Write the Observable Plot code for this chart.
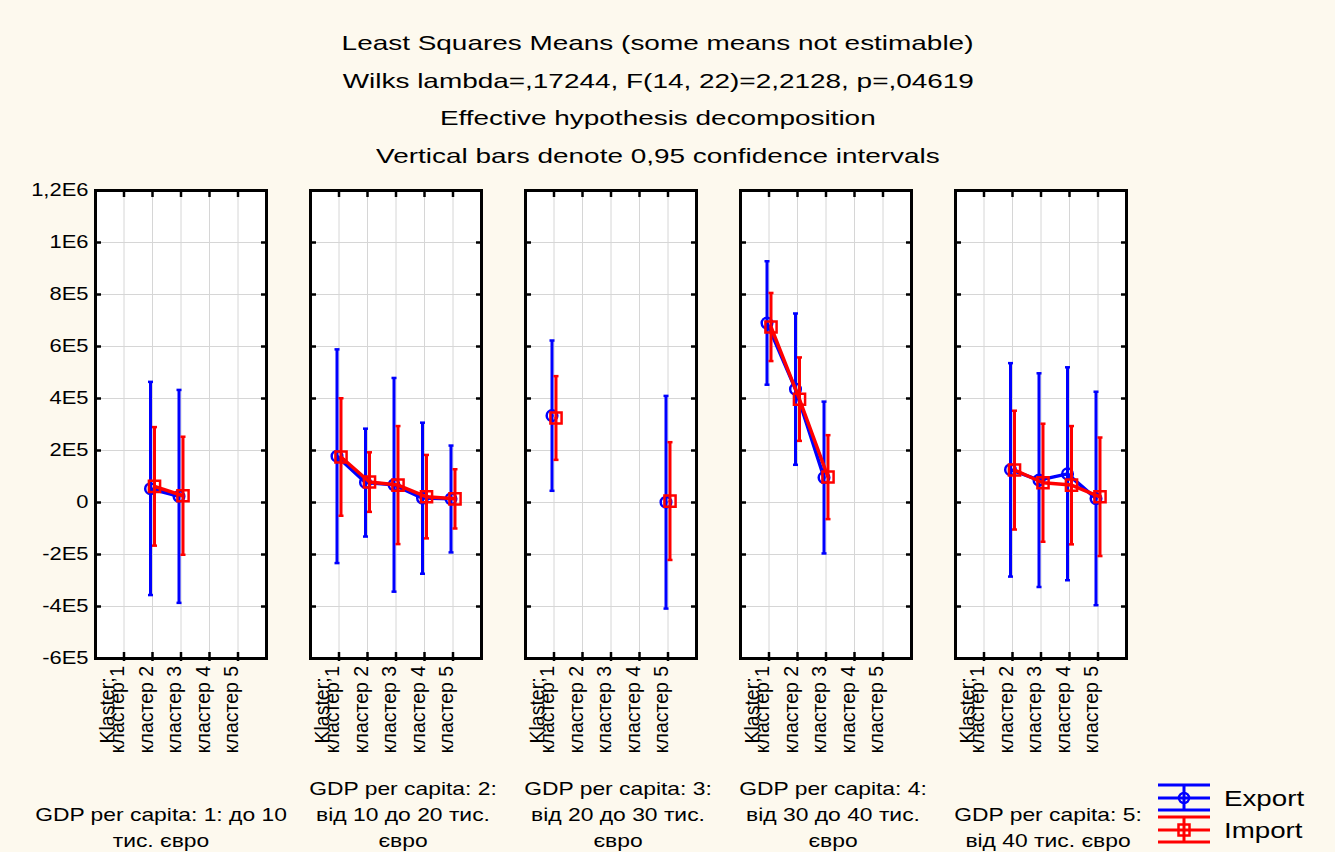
<!DOCTYPE html>
<html><head><meta charset="utf-8">
<script src="https://cdn.jsdelivr.net/npm/d3@7"></script>
<script src="https://cdn.jsdelivr.net/npm/@observablehq/plot@0.6"></script>
<style>
html,body{margin:0;padding:0;background:#fdf9ee;}
#root{position:relative;width:1335px;height:852px;overflow:hidden;background:#fdf9ee;font-family:'Liberation Sans',Arial,sans-serif;}
.tl{position:absolute;left:0;width:1316px;text-align:center;font-size:21px;line-height:21px;color:#000;}
.tl span{display:inline-block;transform:scaleX(1.33);transform-origin:center;white-space:nowrap;}
#plot{position:absolute;left:0;top:170px;}
#legend{position:absolute;left:0;top:0;}
</style></head><body><div id="root"></div>
<script>
// ---------- data ----------
const titleLines = [
  "Least Squares Means (some means not estimable)",
  "Wilks lambda=,17244, F(14, 22)=2,2128, p=,04619",
  "Effective hypothesis decomposition",
  "Vertical bars denote 0,95 confidence intervals"
];
const groups = ["1", "2", "3", "4", "5"];
const groupLabels = [
  "GDP per capita: 1: до 10\nтис. євро",
  "GDP per capita: 2:\nвід 10 до 20 тис.\nєвро",
  "GDP per capita: 3:\nвід 20 до 30 тис.\nєвро",
  "GDP per capita: 4:\nвід 30 до 40 тис.\nєвро",
  "GDP per capita: 5:\nвід 40 тис. євро"
];
const clusters = [1, 2, 3, 4, 5];
const clusterLabels = ["кластер 1", "кластер 2", "кластер 3", "кластер 4", "кластер 5"];
const clusterAxisTitle = "Klaster;";
const yTicks = [1.2e6, 1e6, 8e5, 6e5, 4e5, 2e5, 0, -2e5, -4e5, -6e5];
const yTickLabels = ["1,2E6", "1E6", "8E5", "6E5", "4E5", "2E5", "0", "-2E5", "-4E5", "-6E5"];
const seriesNames = ["Export", "Import"];
const seriesColors = ["#0000ff", "#ff0000"];

// rows: GDP group, columns: cluster 1..5 (null = not estimable)
const exportMean = [
  [null, 5.3e4, 2.4e4, null, null],
  [1.78e5, 7.7e4, 6.8e4, 1.7e4, 1.4e4],
  [3.34e5, null, null, null, 1e3],
  [6.9e5, 4.36e5, 9.6e4, null, null],
  [null, 1.26e5, 8.6e4, 1.1e5, 1.5e4]
];
const exportLower = [
  [null, -3.56e5, -3.86e5, null, null],
  [-2.33e5, -1.31e5, -3.43e5, -2.74e5, -1.92e5],
  [4.5e4, null, null, null, -4.08e5],
  [4.53e5, 1.45e5, -1.96e5, null, null],
  [null, -2.85e5, -3.25e5, -2.99e5, -3.95e5]
];
const exportUpper = [
  [null, 4.64e5, 4.33e5, null, null],
  [5.89e5, 2.84e5, 4.79e5, 3.07e5, 2.19e5],
  [6.23e5, null, null, null, 4.1e5],
  [9.28e5, 7.27e5, 3.88e5, null, null],
  [null, 5.36e5, 4.97e5, 5.2e5, 4.26e5]
];
const importMean = [
  [null, 6.2e4, 2.6e4, null, null],
  [1.75e5, 7.9e4, 6.7e4, 2.2e4, 1.4e4],
  [3.25e5, null, null, null, 5e3],
  [6.75e5, 3.97e5, 9.8e4, null, null],
  [null, 1.25e5, 7.6e4, 6.7e4, 2.2e4]
];
const importLower = [
  [null, -1.66e5, -2.01e5, null, null],
  [-5.1e4, -3.6e4, -1.6e5, -1.38e5, -1.0e5],
  [1.64e5, null, null, null, -2.21e5],
  [5.44e5, 2.37e5, -6.4e4, null, null],
  [null, -1.04e5, -1.51e5, -1.61e5, -2.06e5]
];
const importUpper = [
  [null, 2.9e5, 2.53e5, null, null],
  [4.01e5, 1.93e5, 2.94e5, 1.83e5, 1.28e5],
  [4.86e5, null, null, null, 2.32e5],
  [8.06e5, 5.58e5, 2.59e5, null, null],
  [null, 3.53e5, 3.03e5, 2.94e5, 2.5e5]
];

// ---------- build ----------
const root = document.getElementById("root");
titleLines.forEach((t, i) => {
  const d = document.createElement("div");
  d.className = "tl";
  d.style.top = (32 + i * 37.7) + "px";
  const s = document.createElement("span");
  s.textContent = t;
  d.appendChild(s);
  root.appendChild(d);
});

function makeRows(mean, lo, hi, series) {
  const out = [];
  groups.forEach((g, gi) => clusters.forEach((c, ci) => {
    out.push({group: g, cluster: c, series, mean: mean[gi][ci], lo: lo[gi][ci], hi: hi[gi][ci]});
  }));
  return out;
}
const expRows = makeRows(exportMean, exportLower, exportUpper, seriesNames[0]);
const impRows = makeRows(importMean, importLower, importUpper, seriesNames[1]);
const defined = a => a.filter(d => d.mean != null);

const capSymbol = {draw(ctx) { ctx.moveTo(-2.5, 0); ctx.lineTo(2.5, 0); }};

function seriesMarks(data, color, symbol, r, dx) {
  const dd = defined(data);
  return [
    Plot.ruleX(dd, {fx: "group", x: "cluster", y1: "lo", y2: "hi", stroke: color, strokeWidth: 3, dx}),
    Plot.dot(dd, {fx: "group", x: "cluster", y: "lo", symbol: capSymbol, r: 3, stroke: color, strokeWidth: 2.5, dx}),
    Plot.dot(dd, {fx: "group", x: "cluster", y: "hi", symbol: capSymbol, r: 3, stroke: color, strokeWidth: 2.5, dx}),
    Plot.line(data, {fx: "group", x: "cluster", y: "mean", stroke: color, strokeWidth: 3.5, dx}),
    Plot.dot(dd, {fx: "group", x: "cluster", y: "mean", symbol, r, stroke: color, strokeWidth: 2.5, fill: "none", dx})
  ];
}

const facetData = groups.map((g, i) => ({group: g, label: groupLabels[i]}));
const tickOpts = {tickSize: -6, fill: "none", label: null, facetAnchor: null, strokeWidth: 2.5, stroke: "black"};

const chart = Plot.plot({
  width: 1335,
  height: 682,
  marginTop: 20,
  marginBottom: 194,
  marginLeft: 95,
  marginRight: 209,
  style: {fontFamily: "'Liberation Sans', Arial, sans-serif", fontSize: "18px", background: "transparent", color: "black"},
  fx: {domain: groups, paddingInner: 0.205, paddingOuter: 0, axis: null, label: null},
  x: {domain: [0, 6], label: null},
  y: {domain: [-6e5, 1.2e6], label: null},
  marks: [
    Plot.frame({fill: "white"}),
    Plot.gridX(clusters, {stroke: "#d6d6d6", strokeOpacity: 1, strokeWidth: 1}),
    Plot.gridY(yTicks, {stroke: "#d6d6d6", strokeOpacity: 1, strokeWidth: 1}),
    Plot.axisY(yTicks, {anchor: "left", tickSize: 0, tickPadding: 7, label: null, fontSize: 18,
      tickFormat: d => yTickLabels[yTicks.indexOf(d)]}),
    Plot.axisY(yTicks, {anchor: "left", ...tickOpts}),
    Plot.axisY(yTicks, {anchor: "right", ...tickOpts}),
    Plot.axisX(clusters, {anchor: "top", ...tickOpts}),
    Plot.axisX(clusters, {anchor: "bottom", ...tickOpts}),
    Plot.axisX(clusters, {anchor: "bottom", tickSize: 3, fill: "none", label: null, facetAnchor: null, strokeWidth: 2.5, stroke: "black"}),
    Plot.text(clusters, {x: d => d, text: d => clusterLabels[clusters.indexOf(d)], rotate: -90,
      frameAnchor: "bottom", dy: 51, textAnchor: "middle", fontSize: 19.5}),
    Plot.text([clusterAxisTitle], {x: () => clusters[0], text: d => d, rotate: -90,
      frameAnchor: "bottom", dy: 52, dx: -10, textAnchor: "middle", fontSize: 19.5}),
    ...seriesMarks(expRows, seriesColors[0], "circle", 5.3, -2),
    ...seriesMarks(impRows, seriesColors[1], "square", 6.3, 2),
    Plot.frame({stroke: "black", strokeWidth: 3}),
    Plot.text(facetData.slice(0, 1), {fx: "group", text: "label", frameAnchor: "bottom", lineAnchor: "bottom",
      dy: 188, dx: -20, fontSize: 18, lineHeight: 1.44}),
    Plot.text(facetData.slice(1), {fx: "group", text: "label", frameAnchor: "bottom", lineAnchor: "bottom",
      dy: 188, dx: 7, fontSize: 18, lineHeight: 1.44})
  ]
});
chart.id = "plot";
root.appendChild(chart);

// horizontally stretched lettering (as in the source rendering)
d3.select(chart).selectAll("text").each(function () {
  const t = this.getAttribute("transform") || "";
  if (t.includes("rotate")) return;
  const s = this.querySelector("tspan") ? 1.27 : 1.22;
  const x = parseFloat(this.getAttribute("x")) || 0;
  this.setAttribute("transform", `${t} translate(${x},0) scale(${s},1) translate(${-x},0)`);
});

// legend
const leg = d3.select(root).append("svg").attr("id", "legend").attr("width", 1335).attr("height", 852);
const legY = [798, 830];
seriesNames.forEach((name, i) => {
  const y0 = legY[i], c = seriesColors[i];
  const g = leg.append("g").attr("stroke", c).attr("stroke-width", 3).attr("fill", "none");
  [y0 - 13, y0, y0 + 12].forEach(yy => g.append("line").attr("x1", 1158).attr("x2", 1210).attr("y1", yy).attr("y2", yy));
  g.append("line").attr("x1", 1184).attr("x2", 1184).attr("y1", y0 - 13).attr("y2", y0 + 12);
  if (i === 0) g.append("circle").attr("cx", 1184).attr("cy", y0).attr("r", 5).attr("stroke-width", 2.5);
  else g.append("rect").attr("x", 1178.5).attr("y", y0 - 5.5).attr("width", 11).attr("height", 11).attr("stroke-width", 2.5);
  leg.append("text").attr("x", 1224).attr("y", y0 + 8)
    .attr("font-family", "'Liberation Sans', Arial, sans-serif").attr("font-size", 22)
    .attr("transform", `translate(1224,0) scale(1.26,1) translate(-1224,0)`)
    .text(name);
});
</script>
</body></html>
